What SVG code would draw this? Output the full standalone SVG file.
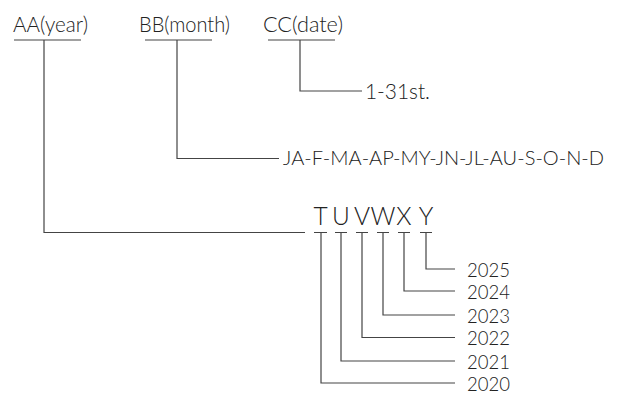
<svg xmlns="http://www.w3.org/2000/svg" width="624" height="394" viewBox="0 0 624 394">
<style>
text{font-family:Lato,"Open Sans","Liberation Sans",Arial,sans-serif;font-weight:300;fill:#222;}
.h{font-size:21.5px;}
.m{font-size:20px;}
.l{font-size:24.5px;text-anchor:middle;}
.y{font-size:19.5px;}
.c{fill:none;stroke:#444;stroke-width:1.2;}
</style>
<rect width="624" height="394" fill="#fff"/>
<g id="nodes">
<g id="aa"><text class="h" x="13" y="31.5" textLength="75" lengthAdjust="spacingAndGlyphs">AA(year)</text></g>
<g id="bb"><text class="h" x="139" y="31.5" textLength="91" lengthAdjust="spacingAndGlyphs">BB(month)</text></g>
<g id="cc"><text class="h" x="263" y="31.5" textLength="80" lengthAdjust="spacingAndGlyphs">CC(date)</text></g>
<g id="dates"><text class="h" x="365" y="98.5" textLength="65" lengthAdjust="spacingAndGlyphs">1-31st.</text></g>
<g id="months"><text class="m" x="283" y="165" textLength="321" lengthAdjust="spacingAndGlyphs">JA-F-MA-AP-MY-JN-JL-AU-S-O-N-D</text></g>
<g id="letters">
<text class="l" x="320.5" y="225">T</text>
<text class="l" x="341" y="225">U</text>
<text class="l" x="362" y="225">V</text>
<text class="l" x="383" y="225">W</text>
<text class="l" x="404" y="225">X</text>
<text class="l" x="426" y="225">Y</text>
</g>
<g id="years">
<text class="y" x="467" y="277" textLength="43" lengthAdjust="spacingAndGlyphs">2025</text>
<text class="y" x="467" y="299" textLength="43" lengthAdjust="spacingAndGlyphs">2024</text>
<text class="y" x="467" y="322.5" textLength="43" lengthAdjust="spacingAndGlyphs">2023</text>
<text class="y" x="467" y="345" textLength="43" lengthAdjust="spacingAndGlyphs">2022</text>
<text class="y" x="467" y="368.5" textLength="43" lengthAdjust="spacingAndGlyphs">2021</text>
<text class="y" x="467" y="391" textLength="43" lengthAdjust="spacingAndGlyphs">2020</text>
</g>
</g>
<g id="connectors" class="c">
<path class="c" d="M14 40H81M44 40V232.5H305"/>
<path class="c" d="M145 40H212M177 40V158.5H279"/>
<path class="c" d="M268 40H335M300 40V91H362"/>
<path class="c" d="M314 232.5H327M321 232.5V383H455"/>
<path class="c" d="M335 232.5H347M341 232.5V361H455"/>
<path class="c" d="M356 232.5H368M362 232.5V337.5H455"/>
<path class="c" d="M377 232.5H389M383 232.5V315H455"/>
<path class="c" d="M398 232.5H410M404 232.5V291H455"/>
<path class="c" d="M420 232.5H432M426 232.5V269H455"/>
</g>
</svg>
